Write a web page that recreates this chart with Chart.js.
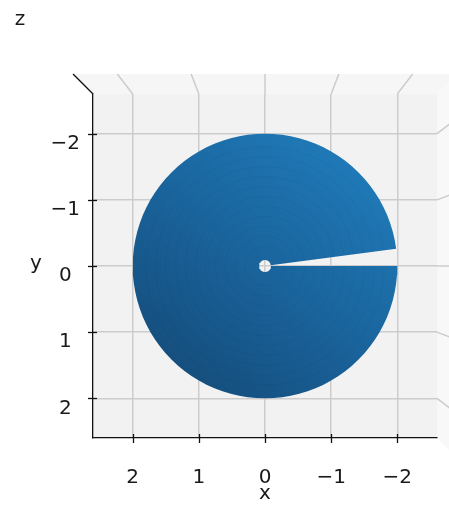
<!DOCTYPE html>
<html>
<head>
<meta charset="utf-8">
<script src="https://cdn.jsdelivr.net/npm/chart.js@4/dist/chart.umd.min.js"></script>
<style>
  html, body { margin: 0; padding: 0; background: #ffffff; }
  #wrap { position: relative; width: 449px; height: 505px; }
</style>
</head>
<body>
<div id="wrap"><canvas id="c"></canvas></div>
<script>
// Axis ticks (x runs right-to-left, y runs top-to-bottom in this view)
const xTicks = [2, 1, 0, -1, -2];
const yTicks = [-2, -1, 0, 1, 2];
const axisLimits = [-2.6, 2.6];

// Annular surface seen from above: radii and the angular span it covers (degrees)
const outerRadius = 2.0;
const innerRadius = 0.09;
const thetaStartDeg = -172.5;
const thetaEndDeg = 180;
const thetaSegments = 94;
// radii of the faint mesh rings on the surface
const meshRings = [0.3, 0.45, 0.6, 0.75, 0.9, 1.05, 1.2, 1.35, 1.5, 1.65, 1.8];

const axisTitles = { x: 'x', y: 'y', z: 'z' };

const FONT = 'DejaVu Sans';
const TEXT_COLOR = '#1a1a1a';

function arcAngles() {
  const out = [];
  for (let i = 0; i <= thetaSegments; i++) {
    out.push((thetaStartDeg + (thetaEndDeg - thetaStartDeg) * i / thetaSegments) * Math.PI / 180);
  }
  return out;
}

// Outline of the sector: outer arc forward, inner arc back
function sectorOutline() {
  const ang = arcAngles();
  const pts = ang.map(t => ({ x: outerRadius * Math.cos(t), y: outerRadius * Math.sin(t) }));
  ang.slice().reverse().forEach(t => pts.push({ x: innerRadius * Math.cos(t), y: innerRadius * Math.sin(t) }));
  return pts;
}

function fmtTick(v) {
  return v < 0 ? '\u2212' + Math.abs(v) : String(v);
}

// Light falls from the upper right, so the surface darkens toward the lower left
function surfaceFill(context) {
  const chart = context.chart;
  const { ctx, chartArea, scales } = chart;
  if (!chartArea) return '#1f77b4';
  const a = 52 * Math.PI / 180;
  const lx = -outerRadius * Math.cos(a), ly = -outerRadius * Math.sin(a);
  const g = ctx.createLinearGradient(
    scales.x.getPixelForValue(lx), scales.y.getPixelForValue(ly),
    scales.x.getPixelForValue(-lx), scales.y.getPixelForValue(-ly));
  g.addColorStop(0, '#1f79b6');
  g.addColorStop(0.5, '#1a649d');
  g.addColorStop(1, '#154f7e');
  return g;
}

const PERSPECTIVE = 1.116;

function outerBox(area) {
  const cx = (area.left + area.right) / 2, cy = (area.top + area.bottom) / 2;
  return {
    cx, cy,
    l: cx - (cx - area.left) * PERSPECTIVE,
    r: cx + (area.right - cx) * PERSPECTIVE,
    t: cy - (cy - area.top) * PERSPECTIVE,
    b: cy + (area.bottom - cy) * PERSPECTIVE
  };
}

const panes = {
  id: 'panes',
  beforeDraw(chart) {
    const { ctx, chartArea: a, scales } = chart;
    const o = outerBox(a);
    ctx.save();
    // floor pane
    ctx.fillStyle = '#f2f2f2';
    ctx.fillRect(a.left, a.top, a.right - a.left, a.bottom - a.top);
    // back wall (top strip)
    ctx.fillStyle = '#f6f6f6';
    ctx.beginPath();
    ctx.moveTo(o.l, o.t); ctx.lineTo(o.r, o.t); ctx.lineTo(a.right, a.top); ctx.lineTo(a.left, a.top);
    ctx.closePath(); ctx.fill();
    // side wall (right strip)
    ctx.fillStyle = '#f8f8f8';
    ctx.beginPath();
    ctx.moveTo(a.right, a.top); ctx.lineTo(o.r, o.t); ctx.lineTo(o.r, o.b); ctx.lineTo(a.right, a.bottom);
    ctx.closePath(); ctx.fill();
    // grid lines continuing up the walls
    ctx.strokeStyle = '#cccccc';
    ctx.lineWidth = 1.5;
    xTicks.forEach(v => {
      const px = scales.x.getPixelForValue(v);
      ctx.beginPath();
      ctx.moveTo(px, a.top);
      ctx.lineTo(o.cx + (px - o.cx) * PERSPECTIVE, o.t);
      ctx.stroke();
    });
    yTicks.forEach(v => {
      const py = scales.y.getPixelForValue(v);
      ctx.beginPath();
      ctx.moveTo(a.right, py);
      ctx.lineTo(o.r, o.cy + (py - o.cy) * PERSPECTIVE);
      ctx.stroke();
    });
    ctx.restore();
  },
  afterDatasetsDraw(chart) {
    // faint facet rings of the surface mesh
    const { ctx, scales } = chart;
    const ang = arcAngles();
    ctx.save();
    ctx.strokeStyle = 'rgba(0,0,0,0.035)';
    ctx.lineWidth = 1;
    meshRings.forEach(r => {
      ctx.beginPath();
      ang.forEach((t, i) => {
        const px = scales.x.getPixelForValue(r * Math.cos(t));
        const py = scales.y.getPixelForValue(r * Math.sin(t));
        if (i === 0) ctx.moveTo(px, py); else ctx.lineTo(px, py);
      });
      ctx.stroke();
    });
    ctx.restore();
  },
  afterDraw(chart) {
    const { ctx, chartArea: a, scales } = chart;
    const o = outerBox(a);
    ctx.save();
    ctx.strokeStyle = '#111111';
    ctx.lineWidth = 1.3;
    // edge where the left axis meets the back wall
    ctx.beginPath();
    ctx.moveTo(a.left, a.top);
    ctx.lineTo(o.l, o.t);
    ctx.stroke();
    // tick marks straddling the axis lines
    yTicks.forEach(v => {
      const py = Math.round(scales.y.getPixelForValue(v)) + 0.5;
      ctx.beginPath(); ctx.moveTo(a.left - 5, py); ctx.lineTo(a.left + 4, py); ctx.stroke();
    });
    xTicks.forEach(v => {
      const px = Math.round(scales.x.getPixelForValue(v)) + 0.5;
      ctx.beginPath(); ctx.moveTo(px, a.bottom - 4); ctx.lineTo(px, a.bottom + 5); ctx.stroke();
    });
    // axis titles
    ctx.fillStyle = TEXT_COLOR;
    ctx.font = '20px "' + FONT + '"';
    ctx.textAlign = 'center';
    ctx.textBaseline = 'middle';
    ctx.fillText(axisTitles.z, 20, 20);
    ctx.fillText(axisTitles.y, 36, 264);
    ctx.fillText(axisTitles.x, scales.x.getPixelForValue(0), 494);
    ctx.restore();
  }
};

const tickFont = { family: FONT, size: 20 };

new Chart(document.getElementById('c'), {
  type: 'line',
  data: {
    datasets: [{
      data: sectorOutline(),
      showLine: true,
      fill: 'shape',
      backgroundColor: surfaceFill,
      borderColor: 'rgba(0,0,0,0)',
      borderWidth: 0,
      pointRadius: 0,
      tension: 0
    }]
  },
  options: {
    responsive: true,
    maintainAspectRatio: false,
    animation: false,
    events: [],
    layout: { padding: { top: 94, right: 12, bottom: 0, left: 0 } },
    plugins: { legend: { display: false }, tooltip: { enabled: false } },
    scales: {
      x: {
        type: 'linear',
        position: 'bottom',
        min: axisLimits[0], max: axisLimits[1],
        reverse: true,
        afterBuildTicks: s => { s.ticks = xTicks.map(v => ({ value: v })); },
        afterFit: s => { s.height = 67; },
        grid: { color: '#cccccc', lineWidth: 1.5, drawTicks: false },
        border: { display: true, color: '#111111', width: 1.3 },
        ticks: { font: tickFont, color: TEXT_COLOR, padding: 28, maxRotation: 0, callback: fmtTick }
      },
      y: {
        type: 'linear',
        position: 'left',
        min: axisLimits[0], max: axisLimits[1],
        reverse: true,
        afterBuildTicks: s => { s.ticks = yTicks.map(v => ({ value: v })); },
        afterFit: s => { s.width = 93; },
        grid: { color: '#cccccc', lineWidth: 1.5, drawTicks: false },
        border: { display: true, color: '#111111', width: 1.3 },
        ticks: { font: tickFont, color: TEXT_COLOR, padding: 13, crossAlign: 'center', labelOffset: 10, callback: fmtTick }
      }
    }
  },
  plugins: [panes]
});
</script>
</body>
</html>
